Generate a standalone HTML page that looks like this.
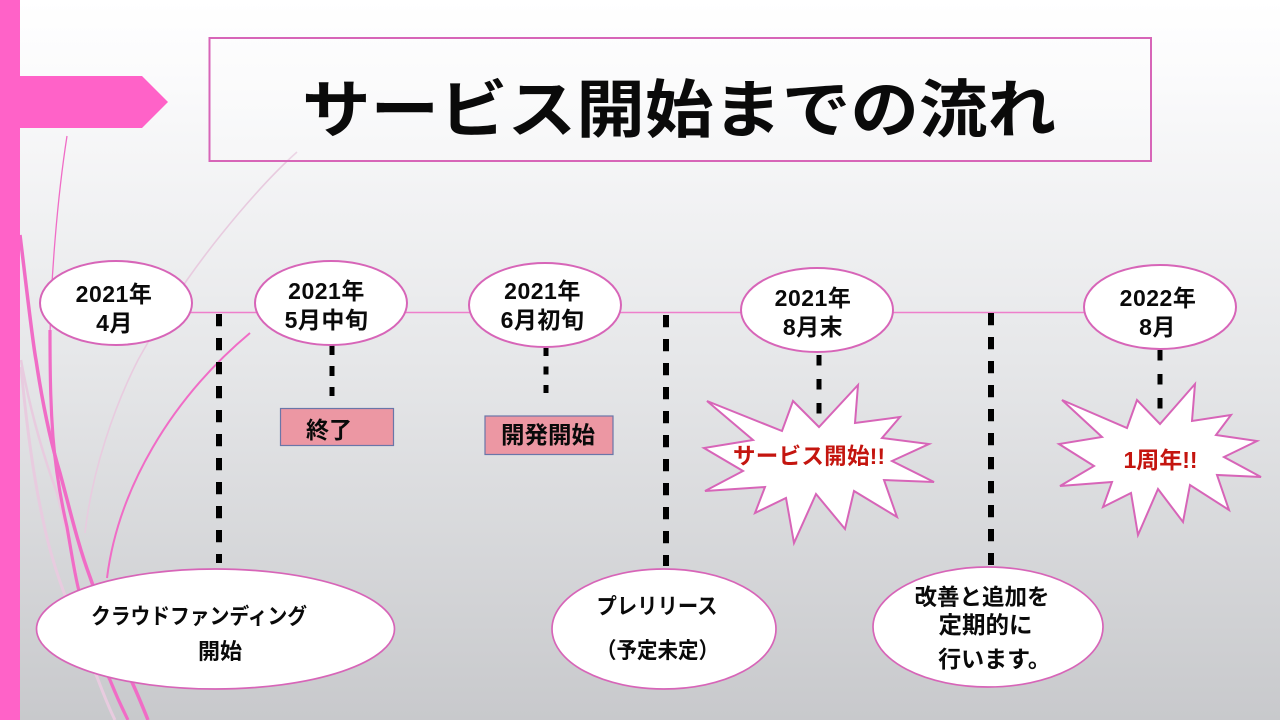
<!DOCTYPE html>
<html lang="ja">
<head>
<meta charset="utf-8">
<title>サービス開始までの流れ</title>
<style>
html,body{margin:0;padding:0;width:1280px;height:720px;overflow:hidden;background:#fff}
svg{display:block}
text{font-family:"Liberation Sans","Noto Sans CJK JP",sans-serif;font-weight:700;fill:#0a0a0a;text-anchor:middle}
.shape{fill:#fff;stroke:#d765b8;stroke-width:2}
.thin{stroke-width:1.7}
.dash{fill:none;stroke:#000;stroke-width:6;stroke-dasharray:12.2 11.8}
.dash2{fill:none;stroke:#000;stroke-width:5;stroke-dasharray:10 11}
.dash3{fill:none;stroke:#000;stroke-width:5;stroke-dasharray:8 10.500}
.dash4{fill:none;stroke:#000;stroke-width:5;stroke-dasharray:10.500 13.500}
.red{fill:#c4150f}
.date{letter-spacing:.5px}
</style>
</head>
<body>
<svg width="1280" height="720" viewBox="0 0 1280 720" xmlns="http://www.w3.org/2000/svg">
<defs>
<linearGradient id="bg" x1="0" y1="0" x2="0" y2="1">
<stop offset="0" stop-color="#ffffff"/>
<stop offset=".1" stop-color="#fbfbfc"/>
<stop offset=".5" stop-color="#e6e7e9"/>
<stop offset="1" stop-color="#c8c9cc"/>
</linearGradient>
</defs>
<rect width="1280" height="720" fill="url(#bg)"/>

<!-- faint decorative curves -->
<g fill="none" stroke="#e8cbdf">
<path d="M297 152C260 185 215 240 187 280C160 320 138 360 138 360C115 405 92 470 85 533" stroke-width="1.600"/>
<path d="M21 367C27 430 34 480 43 520C48 545 55 568 63 590C75 622 85 650 97 677C102 690 108 706 115 720" stroke-width="3"/>
<path d="M21 360C30 410 43 455 57 493C64 520 70 550 77 573" stroke-width="2.500"/>
</g>
<!-- pink decorative curves -->
<g fill="none" stroke="#f06cc6">
<path d="M67 136C57 200 51 280 50 335" stroke-width="1.300"/>
<path d="M50 330C50 385 51 410 53 437C56 475 62 505 67 527C71 550 74 570 78 587C87 625 97 655 110 680C116 695 122 708 128 720" stroke-width="3.200"/>
<path d="M20 235C28 300 33 345 36 360C42 400 50 440 60 473C70 510 78 545 90 577C105 620 118 655 131 680C138 695 142 705 148 720" stroke-width="3.500"/>
<path d="M250 333C170 400 118 490 107 578" stroke-width="2"/>
</g>

<!-- left bar and arrow -->
<rect x="0" y="0" width="20" height="720" fill="#ff62c8"/>
<polygon points="0,76 142,76 168,102 142,128 0,128" fill="#ff62c8"/>

<!-- title -->
<rect x="209.500" y="38" width="941.500" height="123" fill="#fff" fill-opacity=".2" stroke="#d765b8" stroke-width="2"/>
<text transform="translate(679 132) scale(1 .92)" x="0" y="0" font-size="68.500" textLength="754" lengthAdjust="spacingAndGlyphs">サービス開始までの流れ</text>

<!-- timeline -->
<line x1="185" y1="312.500" x2="1090" y2="312.500" stroke="#ee7fcb" stroke-width="1.500"/>

<!-- dashed connectors -->
<line class="dash" x1="219" y1="314" x2="219" y2="563"/>
<line class="dash2" x1="332" y1="345" x2="332" y2="396"/>
<line class="dash3" x1="546" y1="348" x2="546" y2="394"/>
<line class="dash" x1="666" y1="315" x2="666" y2="566"/>
<line class="dash4" x1="819" y1="355" x2="819" y2="414"/>
<line class="dash" x1="991" y1="313" x2="991" y2="565"/>
<line class="dash4" x1="1160" y1="350" x2="1160" y2="409"/>

<!-- date ellipses -->
<ellipse class="shape" cx="116" cy="303" rx="76" ry="42"/>
<ellipse class="shape" cx="331" cy="303" rx="76" ry="42"/>
<ellipse class="shape" cx="545" cy="305" rx="76" ry="42"/>
<ellipse class="shape" cx="817" cy="310" rx="76" ry="42"/>
<ellipse class="shape" cx="1160" cy="307" rx="76" ry="42"/>

<g font-size="23" class="date">
<text x="114" y="302">2021年</text><text x="114.500" y="331">4月</text>
<text x="326.500" y="299">2021年</text><text x="326.500" y="328">5月中旬</text>
<text x="542.500" y="299">2021年</text><text x="542.500" y="328">6月初旬</text>
<text x="813" y="306">2021年</text><text x="813" y="335">8月末</text>
<text x="1158" y="306">2022年</text><text x="1157.500" y="335">8月</text>
</g>

<!-- pink boxes -->
<rect x="280.500" y="408.500" width="113" height="37" fill="#ec97a3" stroke="#6a76a8" stroke-width="1.200"/>
<text x="329" y="438" font-size="23">終了</text>
<rect x="485" y="416" width="128" height="38.500" fill="#ec97a3" stroke="#6a76a8" stroke-width="1.200"/>
<text x="548" y="443" font-size="23.500">開発開始</text>

<!-- starbursts -->
<polygon class="shape" points="707,401 782,431 793,401 819,427 858,385 855,423 900,417 882,438 929,444 892,461 934,482 884,480 897,517 854,491 845,529 816,494 794,543 786,498 755,513 765,487 705,491 743,471 704,448 753,440"/>
<text x="809" y="464" font-size="22.500" class="red" textLength="152">サービス開始!!</text>
<polygon class="shape" points="1062,400 1127,428 1137,400 1160,424 1195,384 1192,421 1231,415 1216,435 1257,441 1224,457 1261,477 1217,475 1229,510 1190,485 1183,522 1158,489 1138,535 1131,493 1103,507 1112,482 1060,486 1094,466 1059,444 1102,437"/>
<text x="1160.500" y="468" font-size="23" class="red">1周年!!</text>

<!-- bottom ellipses -->
<ellipse class="shape thin" cx="215.500" cy="629" rx="179" ry="60"/>
<ellipse class="shape thin" cx="664" cy="629" rx="112" ry="60"/>
<ellipse class="shape thin" cx="988" cy="627" rx="115" ry="60"/>

<g font-size="22">
<text x="199" y="624" textLength="216" lengthAdjust="spacingAndGlyphs">クラウドファンディング</text>
<text x="220" y="659">開始</text>
<text x="657" y="614" font-size="22" textLength="121" lengthAdjust="spacingAndGlyphs">プレリリース</text>
<text x="657.500" y="658" font-size="22" textLength="123" lengthAdjust="spacingAndGlyphs">（予定未定）</text>
<text x="982" y="605" font-size="22.500">改善と追加を</text>
<text x="985.500" y="633" font-size="23.500">定期的に</text>
<text x="994.500" y="667" font-size="23">行います。</text>
</g>
</svg>
</body>
</html>
